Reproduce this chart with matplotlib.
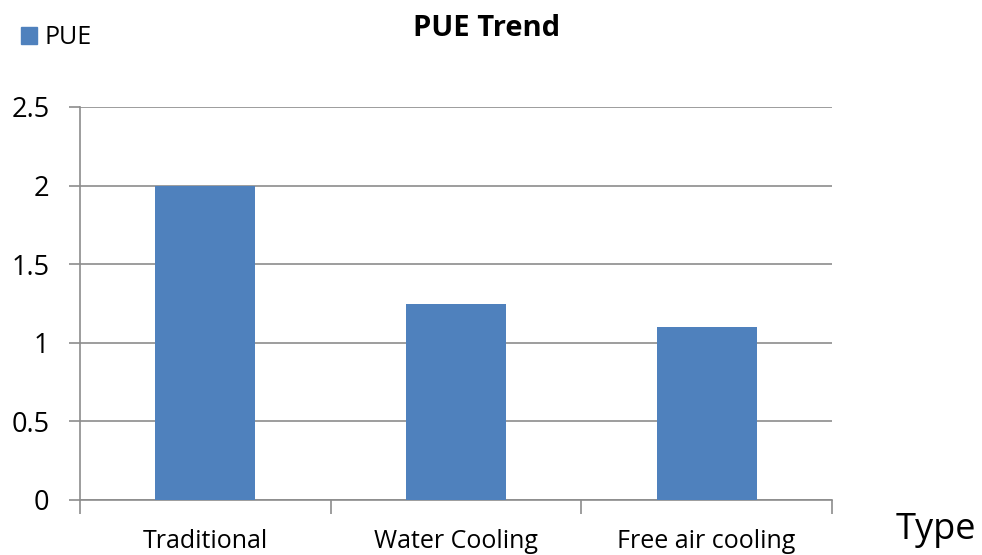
import matplotlib
matplotlib.use("Agg")
import matplotlib.pyplot as plt
from matplotlib.patches import Patch

categories = ["Traditional", "Water Cooling", "Free air cooling"]
pue_values = [2.0, 1.25, 1.1]
y_ticks = [0, 0.5, 1, 1.5, 2, 2.5]
y_tick_labels = ["0", "0.5", "1", "1.5", "2", "2.5"]

plt.rcParams['font.family'] = ['Open Sans', 'DejaVu Sans']

fig = plt.figure(figsize=(9.82, 5.55), dpi=100)
ax = fig.add_axes([80/982, 1-500/555, (832-80)/982, (500-107)/555])

x = list(range(len(categories)))
ax.bar(x, pue_values, width=0.4, color="#4F81BD", zorder=3)
ax.set_xlim(-0.5, len(categories)-0.5)
ax.set_ylim(0, 2.5)
ax.set_yticks(y_ticks)
ax.set_yticklabels(y_tick_labels, fontsize=19.5)
ax.yaxis.grid(True, color="#8C8C8C", linewidth=1.2, zorder=0)

ax.set_xticks([i - 0.5 for i in range(len(categories)+1)])
ax.set_xticklabels([])
ax.set_xticks(x, minor=True)
ax.set_xticklabels(categories, minor=True, fontsize=18)
ax.tick_params(axis='x', which='minor', length=0, pad=21)
ax.tick_params(axis='x', which='major', length=10, color="#8C8C8C", width=1.2)
ax.tick_params(axis='y', length=8, color="#8C8C8C", width=1.2, pad=14)

for s in ['top', 'right']:
    ax.spines[s].set_visible(False)
for s in ['left', 'bottom']:
    ax.spines[s].set_color("#8C8C8C")
    ax.spines[s].set_linewidth(1.2)

fig.text(487/982, 1-28/555, "PUE Trend", ha='center', va='center', fontsize=21, fontweight='bold')
fig.text(936/982, 1-530/555, "Type", ha='center', va='center', fontsize=26)

leg = fig.legend(handles=[Patch(color="#4F81BD", label="PUE")], loc='center left',
                 bbox_to_anchor=(-2/982, 1-38/555), frameon=False, fontsize=18,
                 handlelength=0.65, handleheight=0.65, handletextpad=0.3)

fig.savefig("out.png", dpi=100)
